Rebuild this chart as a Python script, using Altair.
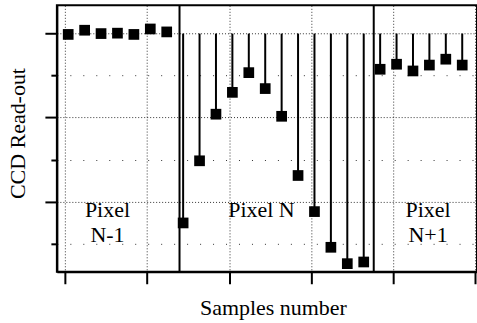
import altair as alt
import pandas as pd

# ---- data ----
n_minus_1 = [5.98, 6.08, 6.00, 6.01, 5.98, 6.11, 6.04]
n_pixel = [1.49, 2.97, 4.08, 4.60, 5.07, 4.69, 4.03, 2.62, 1.76, 0.91, 0.52, 0.56]
n_plus_1 = [5.15, 5.27, 5.11, 5.25, 5.39, 5.25]
baseline_level = 6.0
pixel_boundaries = [6.78, 18.61]
x_tick_values = [-0.2, 4.8, 9.8, 14.8, 19.8, 24.8]
y_tick_values = [1, 2, 3, 4, 5, 6]
label_texts = ["Pixel\nN-1", "Pixel N", "Pixel\nN+1"]
label_x = [2.39, 11.77, 21.92]
label_y = [1.63, 1.63, 1.63]

values = n_minus_1 + n_pixel + n_plus_1
groups = ["N-1"] * len(n_minus_1) + ["N"] * len(n_pixel) + ["N+1"] * len(n_plus_1)
df = pd.DataFrame({
    "sample": list(range(len(values))),
    "value": values,
    "group": groups,
    "base": [baseline_level] * len(values),
})
bounds_df = pd.DataFrame({"sample": pixel_boundaries})
labels_df = pd.DataFrame({"sample": label_x, "value": label_y, "label": label_texts})

FONT = "Liberation Serif"

x_scale = alt.Scale(domain=[-0.69, 24.9], nice=False, zero=False)
y_scale = alt.Scale(domain=[0.327, 6.673], nice=False, zero=False)

x_axis = alt.Axis(
    values=x_tick_values, labels=False, tickSize=12, tickWidth=2, tickColor="black",
    domainWidth=2, domainColor="black",
    grid=True, gridDash=[1, 2], gridColor="black", gridWidth=1, gridOpacity=0.8,
    title="Samples number", titleFont=FONT, titleFontSize=22, titleFontWeight="normal",
    titleColor="black", titleX=216.5, titleY=43, titleBaseline="alphabetic", titleAlign="center",
)
y_axis = alt.Axis(
    values=y_tick_values, labels=False,
    tickSize={"condition": {"test": "datum.value % 2 === 0", "value": 12}, "value": 6},
    tickWidth=2, tickColor="black",
    domainWidth=2, domainColor="black",
    grid=True,
    gridDash={"condition": {"test": "datum.value % 2 === 0", "value": [1, 2]}, "value": [1, 12]},
    gridColor="black", gridWidth=1, gridOpacity=0.8,
    title="CCD Read-out", titleFont=FONT, titleFontSize=22, titleFontWeight="normal",
    titleColor="black", titleX=-32, titleY=128, titleAngle=-90,
    titleBaseline="alphabetic", titleAlign="center",
)

X = alt.X("sample:Q", scale=x_scale, axis=x_axis)
Y = alt.Y("value:Q", scale=y_scale, axis=y_axis)

base = alt.Chart(df)

stems = base.transform_filter("datum.group !== 'N-1'").mark_rule(
    color="black", strokeWidth=2
).encode(x=X, y=Y, y2="base:Q")

points = base.mark_point(
    shape="square", filled=True, size=115, color="black", opacity=1
).encode(x=X, y=Y)

bounds = alt.Chart(bounds_df).mark_rule(color="black", strokeWidth=2).encode(x=X)

labels = alt.Chart(labels_df).mark_text(
    font=FONT, fontSize=22, color="black", align="center", baseline="alphabetic",
    lineBreak="\n", lineHeight=25,
).encode(x=X, y=Y, text="label:N")

chart = alt.layer(stems, bounds, points, labels).properties(
    width=421, height=267,
    autosize=alt.AutoSizeParams(type="none"),
    padding={"left": 57, "top": 5, "right": 0, "bottom": 51},
    background="white",
).configure_view(stroke="black", strokeWidth=2)

chart.save("out.html", embed_options={"renderer": "svg", "actions": False})
